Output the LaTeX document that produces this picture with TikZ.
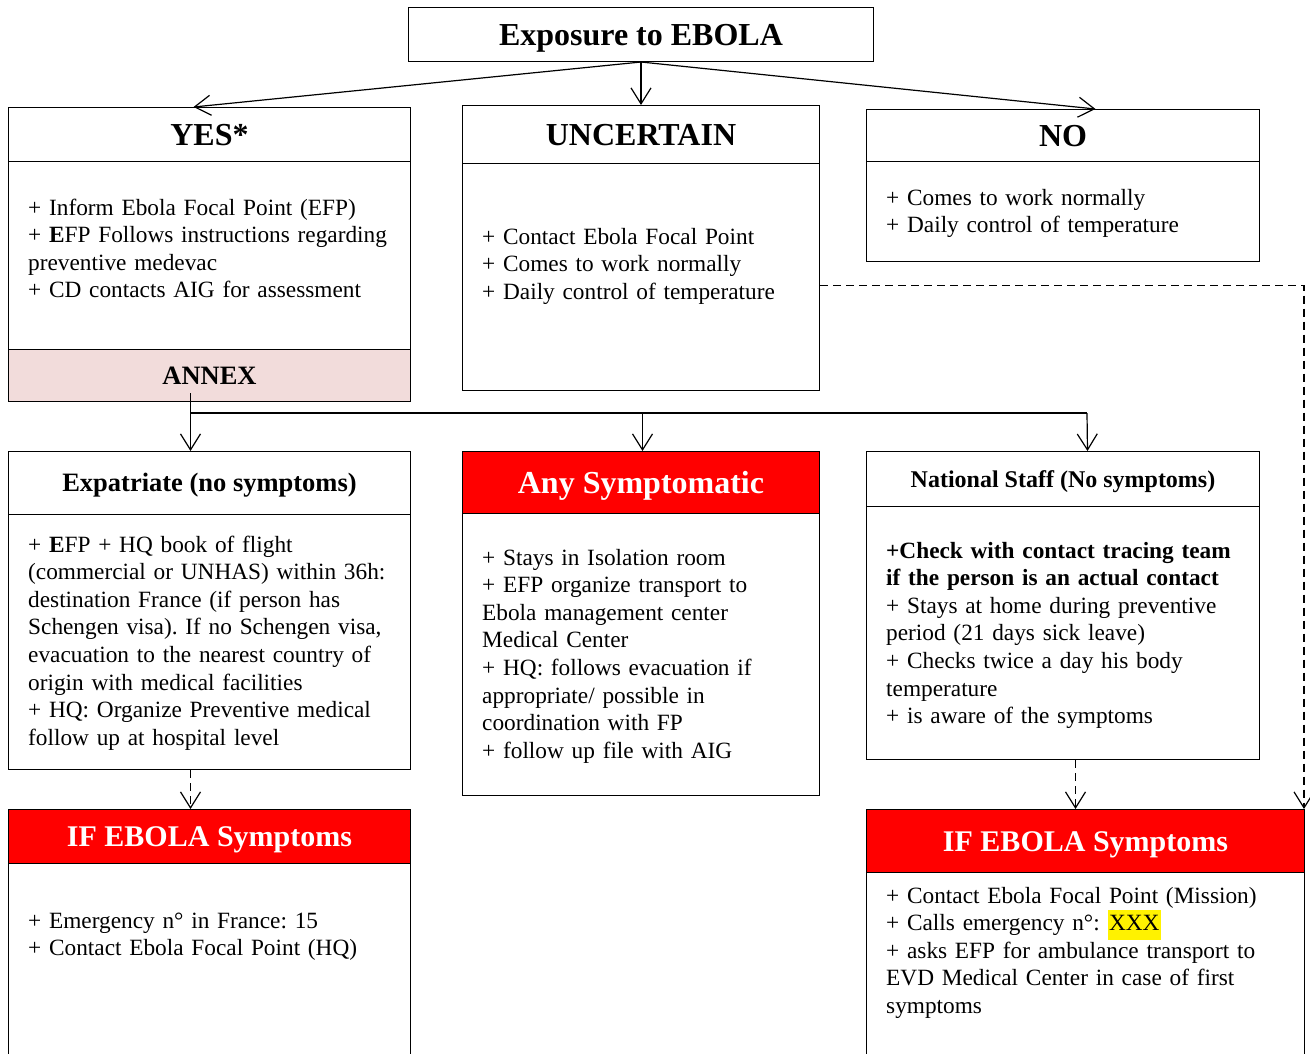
\documentclass[tikz,border=0pt]{standalone}
\usepackage{fontspec}
\setmainfont{Liberation Serif}
\usetikzlibrary{arrows.meta}
\definecolor{alertred}{HTML}{FF0000}
\definecolor{annexpink}{HTML}{F2DCDB}
\frenchspacing
\tikzset{
  hbox/.style={draw, line width=1pt, anchor=north west, inner sep=0pt,
    text height=21pt, text depth=0pt,
    font=\bfseries\fontsize{32}{36}\selectfont},
  redhead/.style={hbox, fill=alertred, text=white, text height=20pt,
    font=\bfseries\fontsize{30}{34}\selectfont},
  bbox/.style={draw, line width=1pt, anchor=north west, inner sep=0pt},
  txt/.style={anchor=base west, inner sep=0pt, text width=420pt, align=left,
    font=\frenchspacing\fontsize{23.3}{27.6}\selectfont},
  arr/.style={line width=1.2pt, -{Straight Barb[length=16pt,width=20pt,line width=1.2pt]}},
  dash arr/.style={arr, dash pattern=on 8pt off 5pt},
}
\newcommand{\hilite}[1]{{\fboxsep=1.5pt\colorbox{yellow}{\strut #1}}}
\begin{document}
\begin{tikzpicture}[x=1pt,y=-1pt]
\useasboundingbox (0,0) rectangle (1310,1053);

% top
\node[hbox, minimum width=465pt, minimum height=54pt] (top) at (408,7) {Exposure to EBOLA};

% first row
\node[hbox, minimum width=402pt, minimum height=54pt] (yeshead) at (8,107) {YES*};
\node[bbox, minimum width=402pt, minimum height=188pt] (yesbody) at (8,161) {};
\node[bbox, fill=annexpink, minimum width=402pt, minimum height=52pt,
  text height=17.5pt, text depth=0pt,
  font=\bfseries\fontsize{26.5}{30}\selectfont] (annex) at (8,349) {ANNEX};
\node[txt] (yestext) at (28,215) {+ Inform Ebola Focal Point (EFP)\\
  + \textbf{E}FP Follows instructions regarding\\ preventive medevac\\
  + CD contacts AIG for assessment};

\node[hbox, minimum width=357pt, minimum height=58pt] (unchead) at (462,105) {UNCERTAIN};
\node[bbox, minimum width=357pt, minimum height=227pt] (uncbody) at (462,163) {};
\node[txt] (unctext) at (482,244) {+ Contact Ebola Focal Point\\
  + Comes to work normally\\ + Daily control of temperature};

\node[hbox, minimum width=393pt, minimum height=52pt] (nohead) at (866,109) {NO};
\node[bbox, minimum width=393pt, minimum height=100pt] (nobody) at (866,161) {};
\node[txt] (notext) at (886,205) {+ Comes to work normally\\ + Daily control of temperature};

% second row
\node[hbox, minimum width=402pt, minimum height=63pt, text height=17.5pt,
  font=\bfseries\fontsize{26.5}{30}\selectfont] (expathead) at (8,451) {Expatriate (no symptoms)};
\node[bbox, minimum width=402pt, minimum height=255pt] (expatbody) at (8,514) {};
\node[txt] (expattext) at (28,552) {+ \textbf{E}FP + HQ book of flight\\
  (commercial or UNHAS) within 36h:\\ destination France (if person has\\
  Schengen visa). If no Schengen visa,\\ evacuation to the nearest country of\\
  origin with medical facilities\\ + HQ: Organize Preventive medical\\
  follow up at hospital level};

\node[redhead, minimum width=357pt, minimum height=62pt, text height=21pt,
  font=\bfseries\fontsize{32}{36}\selectfont] (anyhead) at (462,451) {Any Symptomatic};
\node[bbox, minimum width=357pt, minimum height=282pt] (anybody) at (462,513) {};
\node[txt] (anytext) at (482,565) {+ Stays in Isolation room\\
  + EFP organize transport to\\ Ebola management center\\ Medical Center\\
  + HQ: follows evacuation if\\ appropriate/ possible in\\ coordination with FP\\
  + follow up file with AIG};

\node[hbox, minimum width=393pt, minimum height=55pt, text height=16pt,
  font=\bfseries\fontsize{24}{28}\selectfont] (nathead) at (866,451) {National Staff (No symptoms)};
\node[bbox, minimum width=393pt, minimum height=253pt] (natbody) at (866,506) {};
\node[txt] (nattext) at (886,558) {\textbf{+Check with contact tracing team}\\
  \textbf{if the person is an actual contact}\\ + Stays at home during preventive\\
  period (21 days sick leave)\\ + Checks twice a day his body\\ temperature\\
  + is aware of the symptoms};

% third row
\node[redhead, minimum width=402pt, minimum height=54pt] (iflhead) at (8,809) {IF EBOLA Symptoms};
\node[bbox, minimum width=402pt, minimum height=210pt] (iflbody) at (8,863) {};
\node[txt] (ifltext) at (28,928) {+ Emergency n° in France: 15\\ + Contact Ebola Focal Point (HQ)};

\node[redhead, minimum width=438pt, minimum height=63pt] (ifrhead) at (866,809) {IF EBOLA Symptoms};
\node[bbox, minimum width=438pt, minimum height=200pt] (ifrbody) at (866,872) {};
\node[txt] (ifrtext) at (886,903) {+ Contact Ebola Focal Point (Mission)\\
  + Calls emergency n°: \hilite{XXX}\\
  + asks EFP for ambulance transport to\\ EVD Medical Center in case of first\\ symptoms};

% connectors
\draw[arr] (top.south) -- ([xshift=-16pt]yeshead.north);
\draw[arr] (top.south) -- (unchead.north);
\draw[arr] (top.south) -- ([xshift=32.5pt]nohead.north);

\coordinate (fork) at (190,413);
\coordinate (forkend) at (1087,413);
\draw[line width=2pt] (fork) -- (forkend);
\draw[arr] ([xshift=-19pt,yshift=9pt]annex.south) -- ([xshift=-19pt]expathead.north);
\draw[arr] (fork) -| ([xshift=1.5pt]anyhead.north);
\draw[arr] (forkend) -- ([xshift=24.5pt]nathead.north);

\draw[dash arr] ([xshift=-19pt]expatbody.south) -- ([xshift=-19pt]iflhead.north);
\draw[dash arr] ([xshift=12.5pt]natbody.south) -- ([xshift=-10pt]ifrhead.north);
\draw[dash arr] ([yshift=-8.5pt]uncbody.east) -| ([xshift=-1pt]ifrhead.north east);
\end{tikzpicture}
\end{document}
